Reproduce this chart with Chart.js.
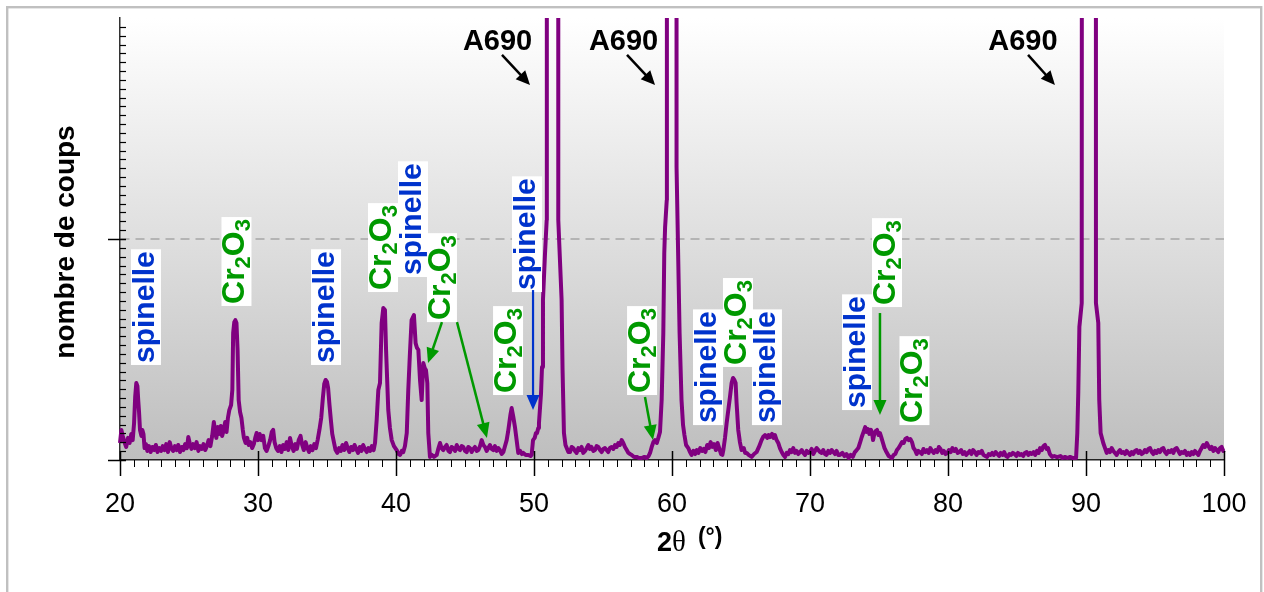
<!DOCTYPE html>
<html><head><meta charset="utf-8">
<script src="https://cdn.jsdelivr.net/npm/chart.js@4.4.1/dist/chart.umd.min.js"></script>
<style>html,body{margin:0;padding:0;background:#fff;overflow:hidden;}canvas{display:block;}</style>
</head><body>
<canvas id="c" width="1264" height="592"></canvas>
<script>
const FONT = '"Liberation Sans", Arial, Helvetica, sans-serif';
const yTitle = 'nombre de coups';
const xTitleParts = ['2', 'θ', '(°)'];
const xRange = [20, 100];
const yRange = [0, 2000];
const xMajorStep = 10, xMinorStep = 1;
const yMajorTicks = [0, 1000], yMinorStep = 40;

// scan data: [2theta, counts]
const scan20to31 = [[20.00,77],[20.10,136],[20.20,109],[20.32,81],[20.45,59],[20.58,100],[20.70,77],[20.82,118],[20.92,90],[21.02,167],[21.10,285],[21.18,348],[21.26,335],[21.32,271],[21.38,217],[21.45,136],[21.55,109],[21.62,136],[21.70,118],[21.78,54],[21.88,72],[21.98,41],[22.10,63],[22.22,36],[22.35,59],[22.48,45],[22.60,68],[22.72,36],[22.85,54],[22.98,41],[23.10,63],[23.22,45],[23.35,72],[23.48,36],[23.60,81],[23.72,54],[23.85,41],[23.98,63],[24.10,45],[24.22,68],[24.35,36],[24.48,59],[24.60,45],[24.72,72],[24.85,54],[24.95,104],[25.05,77],[25.18,50],[25.30,72],[25.42,54],[25.55,81],[25.68,41],[25.80,63],[25.92,50],[26.05,72],[26.18,45],[26.30,63],[26.42,90],[26.55,63],[26.68,109],[26.80,172],[26.88,136],[26.98,100],[27.08,149],[27.18,118],[27.30,154],[27.40,109],[27.52,136],[27.62,172],[27.72,127],[27.82,190],[27.92,226],[28.05,249],[28.14,317],[28.20,575],[28.28,624],[28.36,633],[28.44,620],[28.52,498],[28.60,271],[28.70,217],[28.80,190],[28.90,136],[28.98,100],[29.10,77],[29.22,100],[29.32,68],[29.45,81],[29.58,54],[29.70,72],[29.80,100],[29.90,122],[30.00,90],[30.12,118],[30.25,90],[30.38,109],[30.50,54],[30.62,41],[30.75,63],[30.88,90],[31.00,127]];
const scan31to45 = [[31.10,136],[31.20,81],[31.32,54],[31.45,41],[31.58,63],[31.70,36],[31.82,68],[31.95,50],[32.08,81],[32.20,45],[32.32,100],[32.45,63],[32.58,41],[32.70,72],[32.82,50],[32.95,90],[33.08,109],[33.20,68],[33.32,45],[33.45,81],[33.58,54],[33.70,36],[33.82,63],[33.95,45],[34.08,72],[34.20,54],[34.32,90],[34.45,136],[34.58,190],[34.70,280],[34.80,344],[34.90,362],[35.00,353],[35.08,326],[35.18,249],[35.28,181],[35.38,118],[35.50,81],[35.62,45],[35.75,32],[35.88,54],[36.00,41],[36.12,68],[36.25,45],[36.38,77],[36.50,54],[36.62,36],[36.75,59],[36.88,45],[37.00,68],[37.12,50],[37.25,32],[37.38,59],[37.50,41],[37.62,68],[37.75,50],[37.88,36],[38.00,54],[38.12,41],[38.25,63],[38.38,45],[38.48,77],[38.60,181],[38.72,317],[38.84,348],[38.96,620],[39.08,688],[39.20,679],[39.28,498],[39.44,226],[39.56,145],[39.69,90],[39.85,63],[40.05,45],[40.18,27],[40.30,23],[40.42,41],[40.53,36],[40.65,63],[40.78,122],[40.89,317],[41.01,484],[41.13,633],[41.30,656],[41.42,529],[41.52,507],[41.62,498],[41.74,362],[41.86,271],[41.98,439],[42.08,416],[42.17,407],[42.27,348],[42.34,122],[42.46,14],[42.60,23],[42.75,14],[42.95,23],[43.08,54],[43.19,77],[43.30,54],[43.43,45],[43.55,59],[43.67,68],[43.80,41],[43.91,36],[44.03,59],[44.15,54],[44.28,41],[44.40,68],[44.52,50],[44.64,45],[44.76,63],[44.88,59],[45.00,41]];
const scan45to60 = [[45.12,36],[45.24,59],[45.36,54],[45.48,36],[45.60,50],[45.72,59],[45.85,41],[45.97,45],[46.09,63],[46.21,90],[46.33,68],[46.45,59],[46.57,41],[46.69,54],[46.81,68],[46.93,50],[47.05,45],[47.17,63],[47.29,41],[47.41,54],[47.53,45],[47.66,27],[47.78,36],[47.90,63],[48.02,90],[48.12,127],[48.21,167],[48.30,208],[48.38,235],[48.50,195],[48.62,149],[48.74,90],[48.86,32],[49.00,41],[49.12,27],[49.23,32],[49.40,23],[49.59,23],[49.75,18],[49.83,23],[49.93,90],[50.05,100],[50.14,122],[50.22,122],[50.31,145],[50.36,167],[50.51,303],[50.58,421],[50.65,724],[50.80,937],[50.92,1086],[50.93,6000],[51.30,12000],[51.75,6000],[51.76,1086],[51.88,905],[52.00,724],[52.07,407],[52.17,122],[52.28,68],[52.37,54],[52.49,36],[52.61,36],[52.73,59],[52.85,54],[52.97,41],[53.09,32],[53.21,54],[53.33,45],[53.45,59],[53.57,32],[53.70,41],[53.82,54],[53.94,68],[54.05,50],[54.17,59],[54.30,41],[54.42,45],[54.54,63],[54.66,59],[54.78,45],[54.90,36],[55.02,50],[55.14,54],[55.26,45],[55.38,36],[55.50,54],[55.63,59],[55.75,50],[55.87,68],[55.99,59],[56.11,77],[56.23,68],[56.35,90],[56.47,77],[56.59,59],[56.72,45],[56.84,32],[56.96,27],[57.08,23],[57.25,14],[57.44,14],[57.60,9],[57.80,9],[58.00,14],[58.16,9],[58.30,18],[58.41,32],[58.53,59],[58.65,81],[58.77,90],[58.90,77],[59.01,100],[59.13,127],[59.25,271],[59.37,575],[59.44,937],[59.50,1054],[59.62,1176],[59.63,6000],[60.00,12000]];
const scan60to75 = [[60.32,6000],[60.33,1326],[60.55,575],[60.69,271],[60.80,158],[60.90,113],[61.02,68],[61.18,54],[61.30,36],[61.42,23],[61.55,41],[61.68,27],[61.80,45],[61.92,32],[62.05,54],[62.18,41],[62.30,50],[62.42,36],[62.55,68],[62.68,54],[62.80,81],[62.92,59],[63.05,72],[63.18,45],[63.30,77],[63.42,54],[63.55,27],[63.65,23],[63.72,45],[63.84,100],[63.96,167],[64.08,226],[64.20,285],[64.32,348],[64.42,371],[64.52,362],[64.61,348],[64.68,258],[64.80,136],[64.92,81],[65.04,45],[65.20,54],[65.30,32],[65.41,32],[65.55,23],[65.77,14],[65.95,27],[66.13,36],[66.30,59],[66.49,90],[66.60,104],[66.74,113],[66.90,100],[67.00,113],[67.10,104],[67.25,118],[67.35,100],[67.46,113],[67.58,90],[67.70,77],[67.82,54],[67.95,36],[68.07,23],[68.19,14],[68.31,32],[68.43,27],[68.55,45],[68.67,36],[68.79,54],[68.91,32],[69.03,41],[69.15,27],[69.28,36],[69.40,45],[69.52,32],[69.64,23],[69.76,41],[69.88,32],[70.00,36],[70.12,50],[70.24,27],[70.36,41],[70.48,54],[70.60,45],[70.72,36],[70.84,32],[70.96,45],[71.08,27],[71.20,23],[71.32,41],[71.45,32],[71.57,45],[71.69,36],[71.81,27],[71.93,41],[72.05,23],[72.17,23],[72.35,32],[72.50,18],[72.65,27],[72.80,9],[72.95,23],[73.10,14],[73.25,36],[73.38,45],[73.50,54],[73.62,77],[73.75,104],[73.88,127],[74.00,149],[74.10,127],[74.20,140],[74.30,118],[74.42,136],[74.50,122],[74.57,90],[74.66,118],[74.76,131],[74.86,136],[74.96,113],[75.07,122]];
const scan75to90 = [[75.18,100],[75.29,77],[75.40,54],[75.50,41],[75.58,32],[75.70,18],[75.82,14],[75.94,9],[76.06,23],[76.18,27],[76.30,45],[76.42,54],[76.55,68],[76.67,81],[76.79,77],[76.91,95],[77.03,100],[77.15,90],[77.27,95],[77.39,81],[77.50,54],[77.61,45],[77.73,27],[77.85,41],[77.97,36],[78.10,27],[78.22,50],[78.35,36],[78.48,45],[78.60,32],[78.72,54],[78.85,41],[78.97,32],[79.10,45],[79.22,36],[79.34,59],[79.46,50],[79.58,32],[79.70,41],[79.82,27],[79.95,32],[80.07,45],[80.20,36],[80.32,54],[80.45,41],[80.57,50],[80.70,32],[80.82,36],[80.95,45],[81.07,27],[81.20,36],[81.32,23],[81.45,32],[81.57,41],[81.70,27],[81.82,45],[81.95,36],[82.07,23],[82.20,36],[82.32,32],[82.45,41],[82.57,23],[82.70,18],[82.83,14],[82.95,27],[83.08,23],[83.20,32],[83.32,23],[83.45,36],[83.57,27],[83.70,18],[83.82,32],[83.95,23],[84.07,36],[84.20,18],[84.32,14],[84.45,27],[84.57,23],[84.70,32],[84.82,27],[84.95,18],[85.07,32],[85.20,23],[85.32,27],[85.45,18],[85.57,32],[85.70,36],[85.82,23],[85.95,32],[86.07,27],[86.20,36],[86.32,23],[86.45,41],[86.57,32],[86.67,54],[86.80,45],[86.92,63],[87.03,68],[87.15,50],[87.25,54],[87.38,27],[87.54,14],[87.70,18],[87.85,14],[87.97,14],[88.15,18],[88.30,9],[88.48,14],[88.65,9],[88.85,14],[89.06,9],[89.28,9],[89.37,122],[89.44,303],[89.52,602],[89.69,710],[89.72,6000],[90.20,12000]];
const scan90to100 = [[90.71,6000],[90.72,710],[90.89,620],[90.96,271],[91.06,122],[91.25,77],[91.38,54],[91.50,32],[91.62,45],[91.74,36],[91.86,54],[91.98,41],[92.10,32],[92.22,23],[92.34,36],[92.46,45],[92.58,32],[92.71,36],[92.83,27],[92.95,41],[93.07,32],[93.19,23],[93.31,36],[93.43,27],[93.55,41],[93.67,45],[93.79,32],[93.91,41],[94.03,27],[94.15,32],[94.27,45],[94.40,36],[94.52,50],[94.64,54],[94.76,36],[94.88,27],[95.00,41],[95.12,32],[95.24,45],[95.36,36],[95.48,50],[95.60,54],[95.72,36],[95.84,27],[95.97,41],[96.09,36],[96.21,45],[96.33,32],[96.45,50],[96.57,54],[96.69,41],[96.81,27],[96.93,36],[97.05,32],[97.17,41],[97.30,23],[97.42,32],[97.54,23],[97.66,36],[97.78,27],[97.90,41],[98.02,32],[98.14,23],[98.26,41],[98.38,54],[98.50,68],[98.62,59],[98.75,77],[98.87,63],[98.99,50],[99.11,59],[99.23,41],[99.35,54],[99.47,45],[99.59,36],[99.71,54],[99.83,59],[99.95,41],[100.00,45]];

// annotations in data coordinates
const spinelleLabels = [[21.88,430],[34.93,430],[41.23,828],[49.49,760],[62.61,158],[66.88,158],[73.41,226]]; // [center 2θ, bottom counts]
const cr2o3Labels = [[28.44,697],[39.06,760],[43.33,624],[48.12,294],[57.83,294],[64.78,421],[75.58,692],[77.57,158]];
const a690Labels = [[47.36,1855],[56.49,1855],[85.43,1855]];
const a690Arrows = [[47.68,1833,49.71,1697],[56.74,1833,58.77,1697],[85.80,1833,87.75,1697]];
const cr2o3Arrows = [[43.33,624,42.32,439],[44.42,624,46.59,100],[58.04,285,58.62,90],[75.07,665,75.07,204]];
const spinelleArrows = [[49.93,769,49.93,226]];

const scan = [].concat(scan20to31, scan31to45, scan45to60, scan60to75, scan75to90, scan90to100);

const COL_SP = '#0033cc', COL_CR = '#009900', COL_LINE = '#800080';

const framePlugin = {
  id: 'frame',
  beforeDraw(chart) {
    const {ctx, chartArea: a} = chart;
    ctx.save();
    ctx.fillStyle = '#fff';
    ctx.fillRect(0, 0, chart.width, chart.height);
    ctx.strokeStyle = '#c0c0c0';
    ctx.lineWidth = 2.4;
    ctx.strokeRect(7.2, 7.2, 1254, 620);
    const g = ctx.createLinearGradient(0, a.top, 0, a.bottom);
    g.addColorStop(0, '#ffffff');
    g.addColorStop(1, '#bebebe');
    ctx.fillStyle = g;
    ctx.fillRect(a.left, a.top, a.right - a.left, a.bottom - a.top);
    ctx.restore();
  }
};

function arrow(ctx, x1, y1, x2, y2, color, lw, hl, hw) {
  const ang = Math.atan2(y2 - y1, x2 - x1);
  const c = Math.cos(ang), s = Math.sin(ang);
  const bx = x2 - hl * c, by = y2 - hl * s;
  ctx.strokeStyle = color; ctx.fillStyle = color; ctx.lineWidth = lw;
  ctx.beginPath(); ctx.moveTo(x1, y1); ctx.lineTo(bx + c, by + s); ctx.stroke();
  ctx.beginPath(); ctx.moveTo(x2, y2);
  ctx.lineTo(bx + hw / 2 * s, by - hw / 2 * c);
  ctx.lineTo(bx - hw / 2 * s, by + hw / 2 * c);
  ctx.closePath(); ctx.fill();
}

function rotLabel(ctx, cx, yb, parts, color) {
  ctx.save();
  ctx.translate(cx, yb);
  ctx.rotate(-Math.PI / 2);
  let w = 0;
  parts.forEach(p => { ctx.font = p.font; p.w = ctx.measureText(p.t).width; w += p.w; });
  const pad = 2;
  ctx.fillStyle = '#fff';
  ctx.fillRect(0, -15, w + 2 * pad, 30);
  ctx.fillStyle = color;
  ctx.textBaseline = 'alphabetic';
  ctx.textAlign = 'left';
  let x = pad;
  parts.forEach(p => { ctx.font = p.font; ctx.fillText(p.t, x, 8 + p.dy); x += p.w; });
  ctx.restore();
}

const marksPlugin = {
  id: 'marks',
  afterDatasetsDraw(chart) {
    const {ctx, scales: {x, y}, chartArea: a} = chart;
    ctx.save();
    // tick marks
    ctx.strokeStyle = '#000';
    ctx.lineWidth = 1;
    for (let v = xRange[0]; v <= xRange[1]; v += xMinorStep) {
      const px = Math.round(x.getPixelForValue(v)) + 0.5;
      ctx.beginPath();
      if (v % xMajorStep === 0) { ctx.lineWidth = 1.5; ctx.moveTo(px, a.bottom - 9); ctx.lineTo(px, a.bottom + 16); }
      else { ctx.lineWidth = 1; ctx.moveTo(px, a.bottom); ctx.lineTo(px, a.bottom + 7); }
      ctx.stroke();
    }
    for (let v = yRange[0]; v < yRange[1]; v += yMinorStep) {
      const py = Math.round(y.getPixelForValue(v)) + 0.5;
      ctx.beginPath();
      if (yMajorTicks.includes(v)) { ctx.lineWidth = 1.5; ctx.moveTo(a.left - 12, py); ctx.lineTo(a.left + 6, py); }
      else { ctx.lineWidth = 1.2; ctx.moveTo(a.left, py); ctx.lineTo(a.left + 6, py); }
      ctx.stroke();
    }
    // labels
    const spFont = 'bold 30px ' + FONT;
    const crFont = 'bold 32px ' + FONT;
    const subFont = 'bold 22px ' + FONT;
    spinelleLabels.forEach(([t, c]) => rotLabel(ctx, x.getPixelForValue(t), y.getPixelForValue(c),
      [{t: 'spinelle', font: spFont, dy: 0}], COL_SP));
    cr2o3Labels.forEach(([t, c]) => rotLabel(ctx, x.getPixelForValue(t), y.getPixelForValue(c),
      [{t: 'Cr', font: crFont, dy: 0}, {t: '2', font: subFont, dy: 6}, {t: 'O', font: crFont, dy: 0}, {t: '3', font: subFont, dy: 6}], COL_CR));
    cr2o3Arrows.forEach(([t1, c1, t2, c2]) => arrow(ctx, x.getPixelForValue(t1), y.getPixelForValue(c1), x.getPixelForValue(t2), y.getPixelForValue(c2), COL_CR, 2.5, 15, 13));
    spinelleArrows.forEach(([t1, c1, t2, c2]) => arrow(ctx, x.getPixelForValue(t1), y.getPixelForValue(c1), x.getPixelForValue(t2), y.getPixelForValue(c2), COL_SP, 2.2, 15, 13));
    a690Arrows.forEach(([t1, c1, t2, c2]) => arrow(ctx, x.getPixelForValue(t1), y.getPixelForValue(c1), x.getPixelForValue(t2), y.getPixelForValue(c2), '#000', 2.5, 14, 13));
    ctx.fillStyle = '#000';
    ctx.font = 'bold 29px ' + FONT;
    ctx.textAlign = 'center';
    ctx.textBaseline = 'alphabetic';
    a690Labels.forEach(([t, c]) => ctx.fillText('A690', x.getPixelForValue(t), y.getPixelForValue(c)));
    ctx.restore();
  },
  afterDraw(chart) {
    const {ctx, chartArea: a} = chart;
    ctx.save();
    ctx.fillStyle = '#000';
    // y title
    ctx.translate(74, (a.top + a.bottom) / 2 + 3);
    ctx.rotate(-Math.PI / 2);
    ctx.font = 'bold 28px ' + FONT;
    ctx.textAlign = 'center';
    ctx.textBaseline = 'alphabetic';
    ctx.fillText(yTitle, 0, 0);
    ctx.restore();
    // x title
    ctx.save();
    ctx.fillStyle = '#000';
    ctx.textAlign = 'left';
    ctx.textBaseline = 'alphabetic';
    let xs = (a.left + a.right) / 2 - 15;
    ctx.font = 'bold 27px ' + FONT;
    ctx.fillText(xTitleParts[0], xs, 551);
    xs += ctx.measureText(xTitleParts[0]).width;
    ctx.font = '29px "Liberation Serif", "DejaVu Serif", serif';
    ctx.fillText(xTitleParts[1], xs, 551);
    xs += ctx.measureText(xTitleParts[1]).width + 12;
    ctx.font = 'bold 23px ' + FONT;
    ctx.fillText(xTitleParts[2], xs, 544);
    ctx.restore();
  }
};

new Chart(document.getElementById('c'), {
  type: 'line',
  data: {
    datasets: [{
      data: scan,
      borderColor: COL_LINE,
      borderWidth: 4,
      borderJoinStyle: 'round',
      pointRadius: 0,
      tension: 0,
      fill: false,
      clip: {left: 2, top: 0, right: 2, bottom: 2}
    }]
  },
  options: {
    responsive: false,
    animation: false,
    devicePixelRatio: 1,
    layout: {padding: {left: 0, top: 18, right: 40, bottom: 0}},
    plugins: {legend: {display: false}, tooltip: {enabled: false}},
    events: [],
    scales: {
      x: {
        type: 'linear', min: xRange[0], max: xRange[1],
        afterFit: s => { s.height = 132; },
        ticks: {stepSize: xMajorStep, color: '#000', font: {family: FONT, size: 27}, padding: 0, maxRotation: 0, autoSkip: false},
        grid: {display: false, drawTicks: true, tickLength: 28},
        border: {display: true, color: '#222', width: 1.5}
      },
      y: {
        min: yRange[0], max: yRange[1],
        afterFit: s => { s.width = 120; },
        ticks: {display: false, stepSize: 1000},
        grid: {color: c => (c.tick && c.tick.value === 1000) ? '#b4b4b4' : 'rgba(0,0,0,0)', lineWidth: 2, drawTicks: false},
        border: {display: true, color: '#333', width: 1.5, dash: [9, 6]}
      }
    }
  },
  plugins: [framePlugin, marksPlugin]
});
</script>
</body></html>
